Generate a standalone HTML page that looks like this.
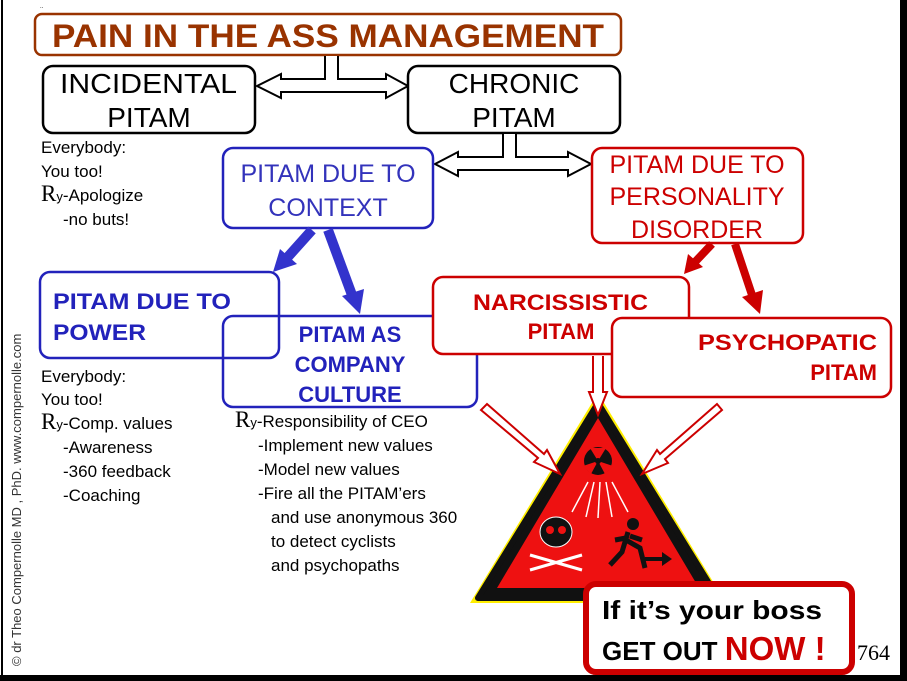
<!DOCTYPE html>
<html><head><meta charset="utf-8"><style>
body{margin:0;width:907px;height:681px;overflow:hidden;background:#fff}
svg{display:block;font-family:"Liberation Sans",Arial,sans-serif}
.serif{font-family:"Liberation Serif",serif}
</style></head><body>
<svg width="907" height="681" viewBox="0 0 907 681">
<rect x="0" y="0" width="907" height="681" fill="#fff"/>
<line x1="2" y1="0" x2="2" y2="681" stroke="#000" stroke-width="2"/>
<rect x="900" y="0" width="7" height="681" fill="#000"/>
<rect x="0" y="675" width="907" height="6" fill="#000"/>

<!-- Title -->
<rect x="35" y="14" width="586" height="41" rx="7" fill="#fff" stroke="#993300" stroke-width="2.5"/>
<text x="52" y="47" font-size="32" font-weight="bold" fill="#993300" textLength="552" lengthAdjust="spacingAndGlyphs">PAIN IN THE ASS MANAGEMENT</text>

<path d="M325,56 V79 H281 V74 L257,86 L281,98 V92 H386 V98 L408,86 L386,74 V79 H338 V56" fill="#fff" stroke="#000" stroke-width="2"/>

<rect x="43" y="66" width="212" height="67" rx="10" fill="#fff" stroke="#000" stroke-width="2.5"/>
<text x="60" y="93" font-size="28" textLength="177" lengthAdjust="spacingAndGlyphs">INCIDENTAL</text>
<text x="149" y="127" text-anchor="middle" font-size="28">PITAM</text>
<rect x="408" y="66" width="212" height="67" rx="10" fill="#fff" stroke="#000" stroke-width="2.5"/>
<text x="514" y="93" text-anchor="middle" font-size="28">CHRONIC</text>
<text x="514" y="127" text-anchor="middle" font-size="28">PITAM</text>

<path d="M503,134 V157 H458 V152 L435,164 L458,176 V170 H568 V176 L591,164 L568,152 V157 H516 V134" fill="#fff" stroke="#000" stroke-width="2"/>

<g font-size="17">
<text x="41" y="153">Everybody:</text>
<text x="41" y="177">You too!</text>
<text x="41" y="201"><tspan class="serif" font-size="23">R</tspan><tspan font-size="13">y</tspan>-Apologize</text>
<text x="63" y="225">-no buts!</text>
</g>

<rect x="223" y="148" width="210" height="80" rx="10" fill="#fff" stroke="#2222bb" stroke-width="2.5"/>
<text x="328" y="182" text-anchor="middle" font-size="25" fill="#3333bb">PITAM DUE TO</text>
<text x="328" y="216" text-anchor="middle" font-size="25" fill="#3333bb">CONTEXT</text>

<rect x="592" y="148" width="211" height="95" rx="10" fill="#fff" stroke="#cc0000" stroke-width="2.5"/>
<text x="697" y="173" text-anchor="middle" font-size="25" fill="#cc0000">PITAM DUE TO</text>
<text x="697" y="205" text-anchor="middle" font-size="25" fill="#cc0000">PERSONALITY</text>
<text x="697" y="238" text-anchor="middle" font-size="25" fill="#cc0000">DISORDER</text>

<line x1="312" y1="230" x2="286" y2="259" stroke="#3333cc" stroke-width="10"/>
<polygon points="273,272 280,249 297,264" fill="#3333cc"/>
<line x1="328" y1="230" x2="352" y2="295" stroke="#3333cc" stroke-width="10"/>
<polygon points="360,314 342,296 364,289" fill="#3333cc"/>

<line x1="712" y1="244" x2="695" y2="262" stroke="#cc0000" stroke-width="8"/>
<polygon points="684,274 688,254 703,267" fill="#cc0000"/>
<line x1="735" y1="244" x2="752" y2="295" stroke="#cc0000" stroke-width="8"/>
<polygon points="760,314 742,297 763,290" fill="#cc0000"/>

<rect x="40" y="272" width="239" height="86" rx="10" fill="#fff" stroke="#2222bb" stroke-width="2.5"/>
<text x="53" y="309" font-size="22" font-weight="bold" fill="#2222bb" textLength="178" lengthAdjust="spacingAndGlyphs">PITAM DUE TO</text>
<text x="53" y="340" font-size="22" font-weight="bold" fill="#2222bb" textLength="93" lengthAdjust="spacingAndGlyphs">POWER</text>

<rect x="223" y="316" width="254" height="91" rx="10" fill="none" stroke="#2222bb" stroke-width="2.5"/>
<text x="350" y="342" text-anchor="middle" font-size="22" font-weight="bold" fill="#2222bb">PITAM AS</text>
<text x="350" y="372" text-anchor="middle" font-size="22" font-weight="bold" fill="#2222bb">COMPANY</text>
<text x="350" y="402" text-anchor="middle" font-size="22" font-weight="bold" fill="#2222bb">CULTURE</text>

<rect x="433" y="277" width="256" height="77" rx="10" fill="#fff" stroke="#cc0000" stroke-width="2.5"/>
<text x="473" y="310" font-size="22" font-weight="bold" fill="#cc0000" textLength="175" lengthAdjust="spacingAndGlyphs">NARCISSISTIC</text>
<text x="561" y="339" text-anchor="middle" font-size="22" font-weight="bold" fill="#cc0000">PITAM</text>

<rect x="612" y="318" width="279" height="79" rx="10" fill="#fff" stroke="#cc0000" stroke-width="2.5"/>
<text x="698" y="350" font-size="22" font-weight="bold" fill="#cc0000" textLength="179" lengthAdjust="spacingAndGlyphs">PSYCHOPATIC</text>
<text x="877" y="380" text-anchor="end" font-size="22" font-weight="bold" fill="#cc0000">PITAM</text>

<g font-size="17">
<text x="41" y="382">Everybody:</text>
<text x="41" y="405">You too!</text>
<text x="41" y="429"><tspan class="serif" font-size="23">R</tspan><tspan font-size="13">y</tspan>-Comp. values</text>
<text x="63" y="453">-Awareness</text>
<text x="63" y="477">-360 feedback</text>
<text x="63" y="501">-Coaching</text>
<text x="235" y="427"><tspan class="serif" font-size="23">R</tspan><tspan font-size="13">y</tspan>-Responsibility of CEO</text>
<text x="258" y="451">-Implement new values</text>
<text x="258" y="475">-Model new values</text>
<text x="258" y="499">-Fire all the PITAM’ers</text>
<text x="271" y="523">and use anonymous 360</text>
<text x="271" y="547">to detect cyclists</text>
<text x="271" y="571">and psychopaths</text>
</g>

<polygon points="598,393 470,603 726,603" fill="#ffee00"/>
<polygon points="598,403 478,598 718,598" fill="#111" stroke="#111" stroke-width="6" stroke-linejoin="round"/>
<polygon points="598,418 497,588 699,588" fill="#ee1111"/>
<circle cx="598" cy="461" r="14" fill="#111"/>
<path d="M598,461 L590,448 L606,448Z M598,461 L583,466 L591,474Z M598,461 L613,466 L605,474Z" fill="#ee1111"/>
<circle cx="598" cy="461" r="3" fill="#111"/>
<g stroke="#fff" stroke-width="1.5" fill="none">
<path d="M588,482 L572,512"/><path d="M594,482 L586,517"/><path d="M600,482 L598,518"/><path d="M606,482 L612,517"/><path d="M612,482 L628,512"/>
</g>
<ellipse cx="556" cy="532" rx="16" ry="15" fill="#111" stroke="#fff"/>
<circle cx="550" cy="530" r="4" fill="#ee1111"/><circle cx="562" cy="530" r="4" fill="#ee1111"/>
<g stroke="#fff" stroke-width="3"><line x1="530" y1="555" x2="582" y2="570"/><line x1="530" y1="570" x2="582" y2="555"/></g>
<circle cx="633" cy="524" r="6" fill="#111"/>
<path d="M628,532 L622,552 L610,565 M626,540 L640,548 L645,568 M626,538 L615,540 M630,536 L642,540" stroke="#111" stroke-width="5" fill="none"/>
<path d="M645,557 H662 V552 L672,559 L662,566 V561 H645Z" fill="#111"/>

<path d="M593,356 V392 H589 L598,415 L607,392 H603 V356" fill="#fff" stroke="#cc0000" stroke-width="2"/>
<path d="M481,410 L538,458 L534,462 L560,474 L547,450 L544,454 L487,404Z" fill="#fff" stroke="#cc0000" stroke-width="2"/>
<path d="M717,404 L660,454 L657,450 L642,474 L668,463 L665,459 L722,410Z" fill="#fff" stroke="#cc0000" stroke-width="2"/>

<rect x="586" y="584" width="266" height="88" rx="10" fill="#fff" stroke="#cc0000" stroke-width="6"/>
<text x="602" y="619" font-size="26" font-weight="bold" fill="#000" textLength="220" lengthAdjust="spacingAndGlyphs">If it’s your boss</text>
<text x="602" y="660" font-size="26" font-weight="bold" fill="#000">GET OUT <tspan fill="#cc0000" font-size="33">NOW !</tspan></text>
<text x="857" y="660" class="serif" font-size="22" fill="#000">764</text>

<text transform="translate(21,666) rotate(-90)" font-size="13" fill="#333">© dr Theo Compernolle MD , PhD.   www.compernolle.com</text>
<text x="40" y="8" font-size="6">..</text>
</svg>
</body></html>
